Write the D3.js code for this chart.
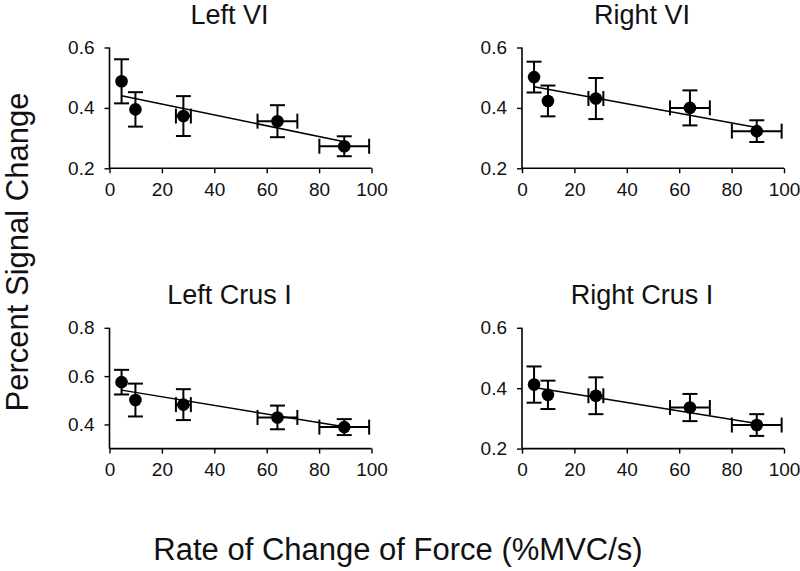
<!DOCTYPE html>
<html>
<head>
<meta charset="utf-8">
<script src="https://cdn.jsdelivr.net/npm/d3@7"></script>
<style>
  html, body { margin: 0; padding: 0; background: #fff; }
  svg { display: block; font-family: Arial, "Liberation Sans", Helvetica, sans-serif; }
</style>
</head>
<body>
<svg id="chart" width="800" height="571"></svg>
<script>
// ---- Data ----
const panelTitles = ["Left VI", "Right VI", "Left Crus I", "Right Crus I"];
const xTicks = [0, 20, 40, 60, 80, 100];
const rateValues = [4.6, 9.9, 28.2, 64.1, 89.6];      // %MVC/s
const rateErrors = [0, 0, 2.85, 7.6, 9.5];

const leftVI = [0.488, 0.395, 0.373, 0.356, 0.273];
const leftVIErr = [0.073, 0.057, 0.066, 0.053, 0.033];
const rightVI = [0.502, 0.423, 0.431, 0.400, 0.323];
const rightVIErr = [0.051, 0.051, 0.068, 0.058, 0.036];
const leftCrusI = [0.575, 0.501, 0.482, 0.429, 0.389];
const leftCrusIErr = [0.051, 0.068, 0.064, 0.049, 0.033];
const rightCrusI = [0.412, 0.378, 0.375, 0.336, 0.278];
const rightCrusIErr = [0.060, 0.047, 0.061, 0.045, 0.036];

const fitStart = [0.440, 0.470, 0.542, 0.402];   // fitted line value at first rate
const fitEnd = [0.288, 0.335, 0.390, 0.283];     // fitted line value at last rate

const yDomains = [[0.2, 0.6], [0.2, 0.6], [0.3, 0.8], [0.2, 0.6]];
const yTicks = [[0.2, 0.4, 0.6], [0.2, 0.4, 0.6], [0.4, 0.6, 0.8], [0.2, 0.4, 0.6]];

const seriesValues = [leftVI, rightVI, leftCrusI, rightCrusI];
const seriesErrors = [leftVIErr, rightVIErr, leftCrusIErr, rightCrusIErr];

// ---- Layout ----
const svg = d3.select("#chart");
const colLeft = [109.5, 522];
const plotW = 262;
const rowTop = [47.5, 327.8];
const plotH = 120.8;

const font = "Arial, 'Liberation Sans', Helvetica, sans-serif";

panelTitles.forEach((title, i) => {
  const col = i % 2, row = Math.floor(i / 2);
  const x0 = colLeft[col], y0 = rowTop[row];
  const g = svg.append("g").attr("transform", `translate(${x0},${y0})`);

  const x = d3.scaleLinear().domain([0, 100]).range([0, plotW]);
  const y = d3.scaleLinear().domain(yDomains[i]).range([plotH, 0]);

  // axes
  const xAxis = g.append("g").attr("transform", `translate(0,${plotH})`)
    .call(d3.axisBottom(x).tickValues(xTicks).tickSize(5).tickPadding(9).tickFormat(d3.format("d")));
  const yAxis = g.append("g")
    .call(d3.axisLeft(y).tickValues(yTicks[i]).tickSize(5).tickPadding(10).tickFormat(d3.format(".1f")));
  [xAxis, yAxis].forEach(a => {
    a.select(".domain").attr("stroke", "#000").attr("stroke-width", 1.6);
    a.selectAll(".tick line").attr("stroke", "#000").attr("stroke-width", 1.4);
    a.selectAll(".tick text").attr("fill", "#111").style("font-size", "19px").style("font-family", font);
  });
  xAxis.select(".domain").attr("d", `M0,0H${plotW}`);
  yAxis.select(".domain").attr("d", `M0,0V${plotH}`);

  // title
  g.append("text")
    .attr("x", plotW / 2 - 11)
    .attr("y", row === 0 ? 23.5 - y0 : 303.5 - y0)
    .attr("text-anchor", "middle")
    .style("font-size", "27px")
    .style("font-family", font)
    .attr("fill", "#111")
    .text(title);

  const vals = seriesValues[i], errs = seriesErrors[i];
  const pts = rateValues.map((r, k) => ({ x: r, xe: rateErrors[k], y: vals[k], ye: errs[k] }));

  // regression line
  g.append("line")
    .attr("x1", x(rateValues[0])).attr("y1", y(fitStart[i]))
    .attr("x2", x(rateValues[rateValues.length - 1])).attr("y2", y(fitEnd[i]))
    .attr("stroke", "#000").attr("stroke-width", 1.5);

  const cap = 7.5;
  const eb = g.append("g").attr("stroke", "#000").attr("stroke-width", 2).attr("fill", "none");
  pts.forEach(p => {
    eb.append("line").attr("x1", x(p.x)).attr("x2", x(p.x)).attr("y1", y(p.y - p.ye)).attr("y2", y(p.y + p.ye));
    eb.append("line").attr("x1", x(p.x) - cap).attr("x2", x(p.x) + cap).attr("y1", y(p.y + p.ye)).attr("y2", y(p.y + p.ye));
    eb.append("line").attr("x1", x(p.x) - cap).attr("x2", x(p.x) + cap).attr("y1", y(p.y - p.ye)).attr("y2", y(p.y - p.ye));
    if (p.xe > 0) {
      eb.append("line").attr("x1", x(p.x - p.xe)).attr("x2", x(p.x + p.xe)).attr("y1", y(p.y)).attr("y2", y(p.y));
      eb.append("line").attr("x1", x(p.x - p.xe)).attr("x2", x(p.x - p.xe)).attr("y1", y(p.y) - cap).attr("y2", y(p.y) + cap);
      eb.append("line").attr("x1", x(p.x + p.xe)).attr("x2", x(p.x + p.xe)).attr("y1", y(p.y) - cap).attr("y2", y(p.y) + cap);
    }
  });

  g.selectAll("circle.pt").data(pts).enter().append("circle")
    .attr("class", "pt")
    .attr("cx", d => x(d.x)).attr("cy", d => y(d.y)).attr("r", 6.3)
    .attr("fill", "#000");
});

// axis titles
svg.append("text")
  .attr("x", 398).attr("y", 560)
  .attr("text-anchor", "middle")
  .style("font-size", "31px").style("font-family", font)
  .attr("fill", "#111")
  .text("Rate of Change of Force (%MVC/s)");

svg.append("text")
  .attr("transform", "translate(28,252) rotate(-90)")
  .attr("text-anchor", "middle")
  .style("font-size", "31px").style("font-family", font)
  .attr("fill", "#111")
  .text("Percent Signal Change");
</script>
</body>
</html>
